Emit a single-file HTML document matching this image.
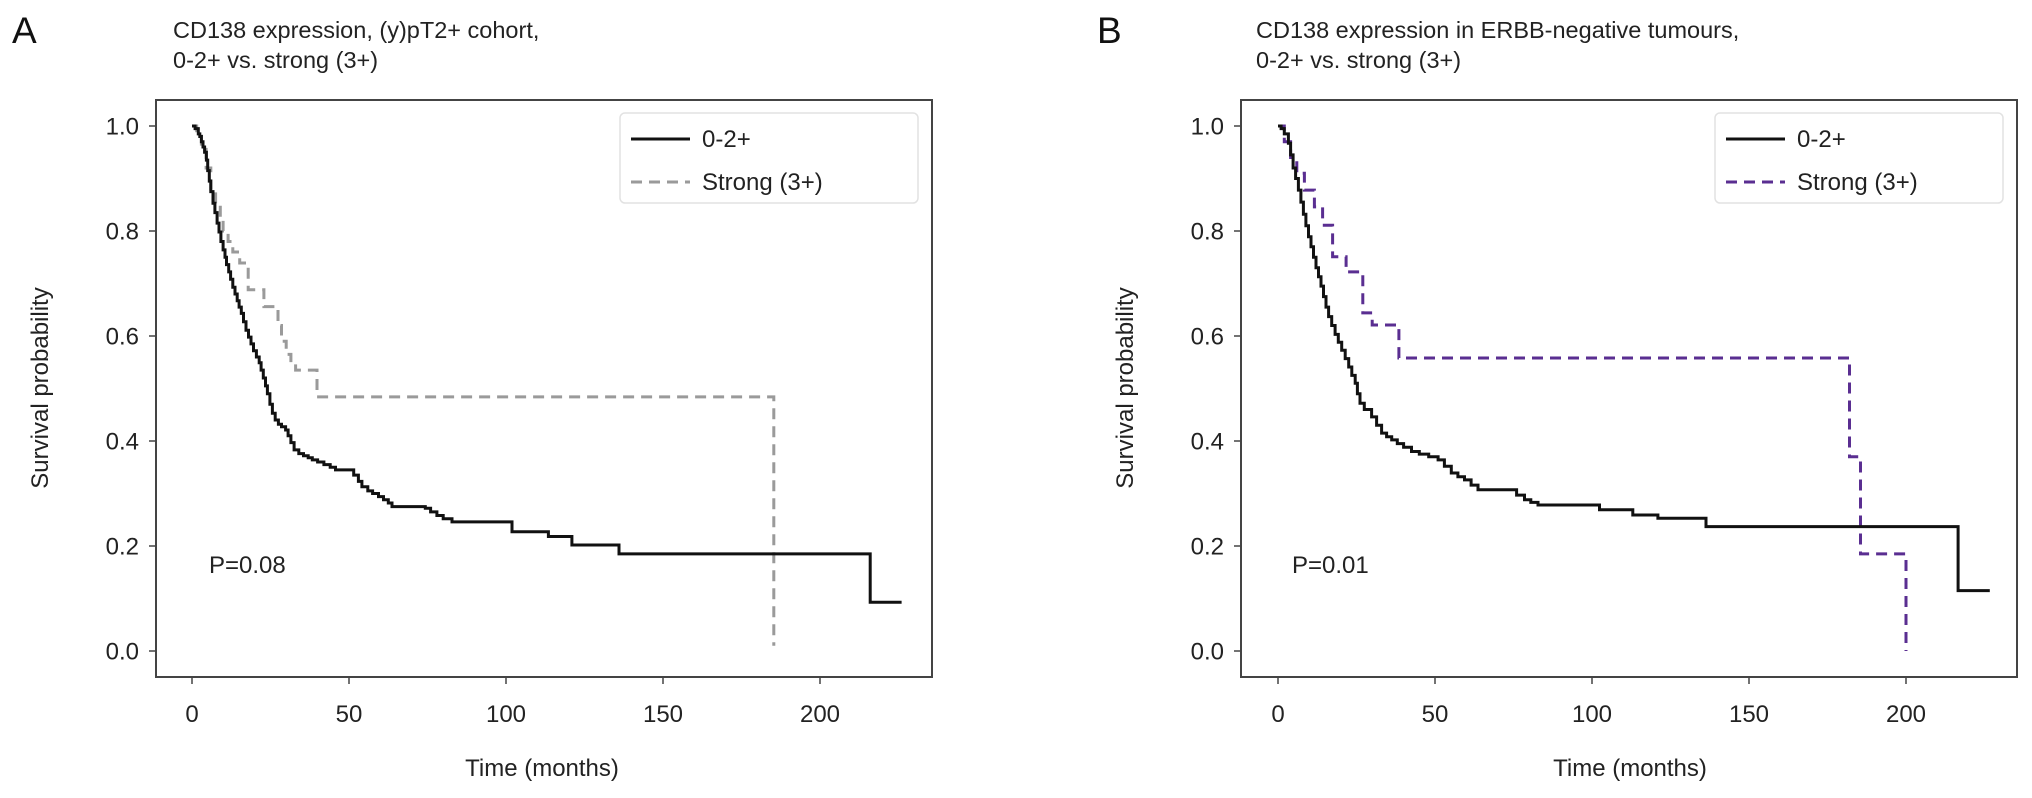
<!DOCTYPE html>
<html><head><meta charset="utf-8">
<style>
html,body{margin:0;padding:0;background:#fff;}
svg{display:block;font-family:"Liberation Sans",Arial,sans-serif;}
</style></head>
<body>
<svg id="fig" width="2032" height="798" viewBox="0 0 2032 798" xmlns="http://www.w3.org/2000/svg">
</svg>
<script>
// ---------- data ----------
const xTicks = [0, 50, 100, 150, 200];
const yTicks = [0.0, 0.2, 0.4, 0.6, 0.8, 1.0];
const yTickLabels = ["0.0", "0.2", "0.4", "0.6", "0.8", "1.0"];
const xTickLabels = ["0", "50", "100", "150", "200"];

// Panel A, 0-2+ (black)
const aLowT = [0, 1, 2, 2.5, 3, 3.5, 4, 4.6, 5, 5.5, 6, 6.7, 7.3, 8, 8.6, 9.2, 9.9, 10.5, 11, 11.7, 12.3, 13, 13.7, 14.4, 15, 15.7, 16.4, 17.2, 18, 18.8, 19.6, 20.5, 21.4, 22, 22.7, 23.4, 24, 24.8, 25.6, 26.5, 27.5, 28.5, 29.8, 30.6, 31.5, 32.5, 34, 35.5, 37, 38.3, 40, 42, 44, 45.7, 50, 51.5, 53, 54.1, 56, 57.5, 59.4, 61, 62.5, 63.7, 74.3, 76, 78, 80, 82.8, 98.2, 101.9, 113.5, 121, 136, 216, 226];
const aLowS = [1.0, 0.995, 0.985, 0.98, 0.97, 0.96, 0.95, 0.935, 0.915, 0.895, 0.875, 0.853, 0.835, 0.815, 0.798, 0.78, 0.764, 0.75, 0.736, 0.722, 0.708, 0.693, 0.68, 0.667, 0.655, 0.643, 0.627, 0.611, 0.598, 0.585, 0.572, 0.56, 0.549, 0.535, 0.52, 0.505, 0.49, 0.47, 0.453, 0.44, 0.432, 0.427, 0.421, 0.41, 0.397, 0.383, 0.376, 0.372, 0.368, 0.364, 0.36, 0.355, 0.35, 0.345, 0.345, 0.335, 0.323, 0.313, 0.305, 0.3, 0.294, 0.288, 0.282, 0.275, 0.272, 0.265, 0.258, 0.252, 0.246, 0.246, 0.227, 0.218, 0.202, 0.185, 0.093, 0.093];
// Panel A, strong (3+) (grey dashed)
const aHighT = [0, 1.5, 3, 4.5, 6, 7.5, 9, 9.9, 11.5, 13, 15.2, 17.9, 22.9, 27.4, 28.5, 30, 31.5, 33, 39.8, 185.3, 185.3];
const aHighS = [1.0, 0.985, 0.96, 0.92, 0.88, 0.85, 0.82, 0.80, 0.78, 0.76, 0.739, 0.688, 0.656, 0.62, 0.59, 0.565, 0.55, 0.535, 0.484, 0.484, 0.01];
// Panel B, 0-2+ (black)
const bLowT = [0, 1, 2, 3.3, 4, 4.8, 5.6, 6.5, 7.3, 8.1, 8.9, 9.7, 10.5, 11.3, 12.1, 12.9, 13.7, 14.5, 15.3, 16.1, 17.1, 18.2, 19.2, 20.3, 21.4, 22.5, 23.5, 24.6, 25.3, 26.1, 27.5, 29.8, 31.4, 33, 34.6, 36.2, 38, 40, 42.5, 45, 48, 51, 53, 55.2, 57.3, 59.4, 61.5, 63.7, 73.2, 76, 78.5, 80.5, 82.8, 101.9, 102.4, 112.5, 113, 120.5, 121, 136.3, 216.6, 226.7];
const bLowS = [1.0, 0.995, 0.985, 0.967, 0.945, 0.92, 0.9, 0.878, 0.855, 0.832, 0.81, 0.789, 0.77, 0.75, 0.73, 0.713, 0.695, 0.675, 0.655, 0.637, 0.62, 0.603, 0.588, 0.573, 0.557, 0.541, 0.525, 0.51, 0.49, 0.472, 0.46, 0.446, 0.43, 0.415, 0.408, 0.402, 0.395, 0.388, 0.38, 0.375, 0.37, 0.364, 0.352, 0.339, 0.332, 0.326, 0.316, 0.307, 0.307, 0.297, 0.288, 0.283, 0.278, 0.278, 0.269, 0.269, 0.259, 0.259, 0.253, 0.237, 0.115, 0.115];
// Panel B, strong (3+) (purple dashed)
const bHighT = [0, 2, 4, 6, 8.4, 11.6, 14.2, 17.4, 21.7, 27, 30, 38.5, 182, 185.5, 200, 200];
const bHighS = [1.0, 0.97, 0.94, 0.91, 0.878, 0.846, 0.811, 0.751, 0.722, 0.644, 0.621, 0.558, 0.37, 0.185, 0.0, 0.0];

// ---------- layout ----------
const NS = "http://www.w3.org/2000/svg";
const svg = document.getElementById("fig");
function mk(tag, attrs, parent){
  const e = document.createElementNS(NS, tag);
  for (const k in attrs) e.setAttribute(k, attrs[k]);
  (parent||svg).appendChild(e);
  return e;
}
const yScale = s => 651 - s * 525;

const panels = [
  {key:"a", letter:"A", letterX:12, left:156, right:932, x0:192, titleX:173,
   title1:"CD138 expression, (y)pT2+ cohort,", title2:"0-2+ vs. strong (3+)",
   legL:620, legR:918, p:"P=0.08", pX:209, xLabelX:542,
   low:[aLowT,aLowS], high:[aHighT,aHighS], highColor:"#9a9a9a"},
  {key:"b", letter:"B", letterX:1097, left:1241, right:2017, x0:1278, titleX:1256,
   title1:"CD138 expression in ERBB-negative tumours,", title2:"0-2+ vs. strong (3+)",
   legL:1715, legR:2003, p:"P=0.01", pX:1292, xLabelX:1630,
   low:[bLowT,bLowS], high:[bHighT,bHighS], highColor:"#5a2e91"}
];

function stepPath(ts, ss, xs){
  let d = "M" + xs(ts[0]).toFixed(1) + "," + yScale(ss[0]).toFixed(1);
  for (let i = 1; i < ts.length; i++){
    d += " H" + xs(ts[i]).toFixed(1) + " V" + yScale(ss[i]).toFixed(1);
  }
  return d;
}

panels.forEach(p => {
  const xs = t => p.x0 + t * 3.14;
  const g = mk("g", {});
  
  

  let t = mk("text", {x:p.letterX, y:43, "font-size":37, fill:"#111"}, g);
  t.textContent = p.letter;
  
  

  t = mk("text", {x:p.titleX, y:38, "font-size":23.5, fill:"#222"}, g);
  t.textContent = p.title1;
  
  
  t = mk("text", {x:p.titleX, y:68, "font-size":23.5, fill:"#222"}, g);
  t.textContent = p.title2;
  
  

  const frame = mk("rect", {x:p.left, y:100, width:p.right-p.left, height:577, fill:"none", stroke:"#444", "stroke-width":2}, g);
  
  

  yTicks.forEach((v, i) => {
    const y = yScale(v);
    const tk = mk("line", {x1:p.left-7, x2:p.left, y1:y, y2:y, stroke:"#444", "stroke-width":1.5}, g);
    
    
    const lb = mk("text", {x:p.left-17, y:y+8.5, "font-size":24, "text-anchor":"end", fill:"#222"}, g);
    lb.textContent = yTickLabels[i];
    
    
  });
  xTicks.forEach((v, i) => {
    const x = xs(v);
    const tk = mk("line", {x1:x, x2:x, y1:677, y2:684, stroke:"#444", "stroke-width":1.5}, g);
    
    
    const lb = mk("text", {x:x, y:722, "font-size":24, "text-anchor":"middle", fill:"#222"}, g);
    lb.textContent = xTickLabels[i];
    
    
  });

  let yl = mk("text", {x:0, y:0, "font-size":24, "text-anchor":"middle", fill:"#222",
    transform:"translate(" + (p.left-108) + ",388) rotate(-90)"}, g);
  yl.textContent = "Survival probability";
  
  

  let xl = mk("text", {x:p.xLabelX, y:776, "font-size":24, "text-anchor":"middle", fill:"#222"}, g);
  xl.textContent = "Time (months)";
  
  

  const hi = mk("path", {d:stepPath(p.high[0], p.high[1], xs), fill:"none", stroke:p.highColor, "stroke-width":3, "stroke-dasharray":"11,7"}, g);
  
  
  const lo = mk("path", {d:stepPath(p.low[0], p.low[1], xs), fill:"none", stroke:"#111", "stroke-width":3}, g);
  
  

  const pv = mk("text", {x:p.pX, y:573, "font-size":24, fill:"#222"}, g);
  pv.textContent = p.p;
  
  

  const lg = mk("g", {}, g);
  
  
  mk("rect", {x:p.legL, y:113, width:p.legR-p.legL, height:90, rx:5, fill:"#fff", stroke:"#e2e2e2", "stroke-width":1.5}, lg);
  const l1 = mk("line", {x1:p.legL+11, x2:p.legL+70, y1:139, y2:139, stroke:"#111", "stroke-width":3}, lg);
  
  
  const t1 = mk("text", {x:p.legL+82, y:147, "font-size":24, fill:"#222"}, lg);
  t1.textContent = "0-2+";
  
  
  const l2 = mk("line", {x1:p.legL+11, x2:p.legL+70, y1:182, y2:182, stroke:p.highColor, "stroke-width":3, "stroke-dasharray":"11,7"}, lg);
  
  
  const t2 = mk("text", {x:p.legL+82, y:190, "font-size":24, fill:"#222"}, lg);
  t2.textContent = "Strong (3+)";
  
  
});
</script>
</body></html>
